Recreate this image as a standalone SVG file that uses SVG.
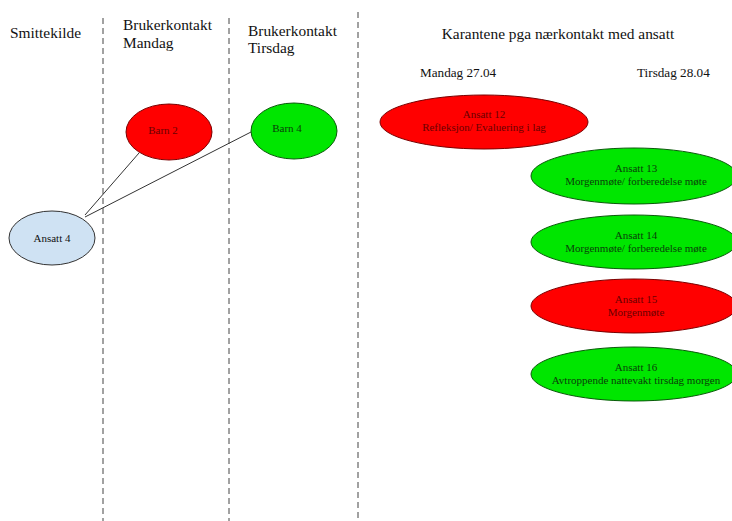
<svg xmlns="http://www.w3.org/2000/svg" width="732" height="521" viewBox="0 0 732 521">
<style>
text{font-family:"Liberation Serif","Times New Roman",serif;fill:#111}
.h{font-size:15.4px}
.d{font-size:13.2px}
.n{font-size:11px;text-anchor:middle}
.r{fill:#ff0000;stroke:#7a0000;stroke-width:1}
.g{fill:#00e600;stroke:#0a5a0a;stroke-width:1}
.b{fill:#cfe2f3;stroke:#333;stroke-width:1}
.rt{fill:#6a0000}
.gt{fill:#0a400a}
.sep{stroke:#444;stroke-width:1;stroke-dasharray:6,4}
.c{stroke:#333;stroke-width:1;fill:none}
</style>
<rect width="732" height="521" fill="#fff"/>
<g id="separators">
<line class="sep" x1="103" y1="18" x2="103" y2="521"/>
<line class="sep" x1="229" y1="18" x2="229" y2="521"/>
<line class="sep" x1="358" y1="12" x2="358" y2="521"/>
</g>
<g id="headers">
<text class="h" x="10" y="38">Smittekilde</text>
<text class="h" x="123" y="30">Brukerkontakt</text>
<text class="h" x="123" y="48">Mandag</text>
<text class="h" x="248" y="36">Brukerkontakt</text>
<text class="h" x="248" y="53">Tirsdag</text>
<text class="h" x="558" y="39" text-anchor="middle">Karantene pga nærkontakt med ansatt</text>
<text class="d" x="420" y="77">Mandag 27.04</text>
<text class="d" x="637" y="77">Tirsdag 28.04</text>
</g>
<g id="connectors">
<line class="c" x1="85" y1="215" x2="139" y2="153"/>
<line class="c" x1="85" y1="217" x2="251" y2="132"/>
</g>
<g id="ansatt4">
<ellipse class="b" cx="52" cy="238" rx="43" ry="27"/>
<text class="n" x="52" y="242">Ansatt 4</text>
</g>
<g id="barn2">
<ellipse class="r" cx="169" cy="132" rx="43" ry="28"/>
<text class="n rt" x="163" y="134">Barn 2</text>
</g>
<g id="barn4">
<ellipse class="g" cx="294" cy="131" rx="43" ry="28"/>
<text class="n gt" x="287" y="132">Barn 4</text>
</g>
<g id="ansatt12">
<ellipse class="r" cx="484" cy="122" rx="104" ry="27"/>
<text class="n rt" x="484" y="118">Ansatt 12</text>
<text class="n rt" x="484" y="131">Refleksjon/ Evaluering i lag</text>
</g>
<g id="ansatt13">
<ellipse class="g" cx="634" cy="176" rx="103" ry="28"/>
<text class="n gt" x="636" y="172">Ansatt 13</text>
<text class="n gt" x="636" y="185">Morgenmøte/ forberedelse møte</text>
</g>
<g id="ansatt14">
<ellipse class="g" cx="634" cy="242" rx="103" ry="27"/>
<text class="n gt" x="636" y="239">Ansatt 14</text>
<text class="n gt" x="636" y="252">Morgenmøte/ forberedelse møte</text>
</g>
<g id="ansatt15">
<ellipse class="r" cx="634" cy="306" rx="103" ry="27"/>
<text class="n rt" x="636" y="303">Ansatt 15</text>
<text class="n rt" x="636" y="316">Morgenmøte</text>
</g>
<g id="ansatt16">
<ellipse class="g" cx="634" cy="374" rx="103" ry="27"/>
<text class="n gt" x="636" y="371">Ansatt 16</text>
<text class="n gt" x="636" y="384">Avtroppende nattevakt tirsdag morgen</text>
</g>
</svg>
